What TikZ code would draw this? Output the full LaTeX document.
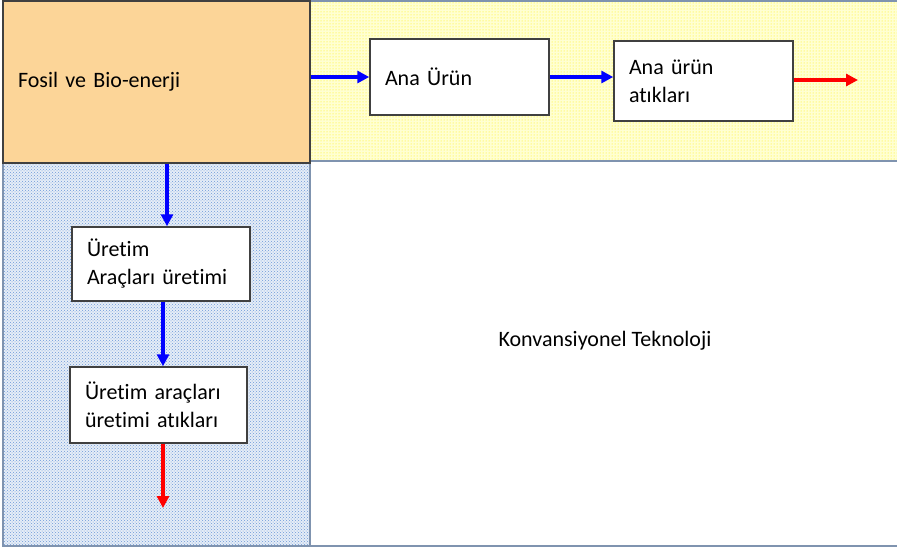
\documentclass[tikz,border=0pt]{standalone}
\usepackage{fontspec}
\setmainfont{Carlito}[Ligatures=NoCommon]
\usetikzlibrary{arrows.meta,patterns}

\definecolor{turuncu}{HTML}{FCD598}
\definecolor{cerceve}{HTML}{7F93AF}
\definecolor{noktamavi}{HTML}{6C9AD8}
\definecolor{noktasari}{HTML}{FFF200}
\definecolor{sariarka}{HTML}{FFFFD2}
\definecolor{maviarka}{HTML}{E6EDF7}

\begin{document}
\begin{tikzpicture}[x=1pt,y=-1pt,>={Triangle[length=12pt,width=12pt]}]
  \tikzstyle{every node}=[font=\fontsize{22}{28}\selectfont];
  \tikzstyle{kutu}=[draw=black!75,line width=1.5pt,fill=white,align=left,
                    inner xsep=15pt,inner ysep=0pt];
  \tikzstyle{bolge}=[draw=cerceve,line width=1.5pt];
  \tikzstyle{akis}=[->,line width=4pt,blue];
  \tikzstyle{atik}=[->,line width=4pt,red];

  \useasboundingbox (0,0) rectangle (897,549);

  % arka plan bolgeleri
  \path[bolge,preaction={fill=sariarka},pattern=dots,pattern color=noktasari] (310,1) rectangle (899,161);
  \path[bolge,preaction={fill=maviarka},pattern=crosshatch dots,pattern color=noktamavi] (3,163) rectangle (310,546);
  \path[bolge] (310,161) rectangle (899,546);

  % kutular
  \node[kutu,fill=turuncu,text width=277pt,minimum height=162pt] (fosil) at (156.5,82) {Fosil ve Bio-enerji};
  \node[kutu,text width=149pt,minimum height=76pt] (anaurun) at (459.5,77) {Ana Ürün};
  \node[kutu,text width=149pt,minimum height=80pt] (anaatik) at (703.5,81) {Ana ürün\\atıkları};
  \node[kutu,text width=148pt,minimum height=74pt] (uretim) at (161,264) {Üretim\\Araçları üretimi};
  \node[kutu,text width=147pt,minimum height=76pt] (uretimatik) at (158.5,405) {Üretim araçları\\üretimi atıkları};
  \node (konv) at (605,341) {Konvansiyonel Teknoloji};

  \coordinate (cikis1) at (858,80);
  \coordinate (cikis2) at (163,508);

  % oklar
  \draw[akis] (fosil.east |- anaurun.west) -- (anaurun.west);
  \draw[akis] (anaurun.east) -- (anaurun.east -| anaatik.west);
  \draw[atik] (anaatik.east |- cikis1) -- (cikis1);
  \draw[akis] ([xshift=6pt]uretim.north |- fosil.south) -- ([xshift=6pt]uretim.north);
  \draw[akis] ([xshift=2pt]uretim.south) -- ([xshift=2pt]uretim.south |- uretimatik.north);
  \draw[atik] (uretimatik.south -| cikis2) -- (cikis2);
\end{tikzpicture}
\end{document}
